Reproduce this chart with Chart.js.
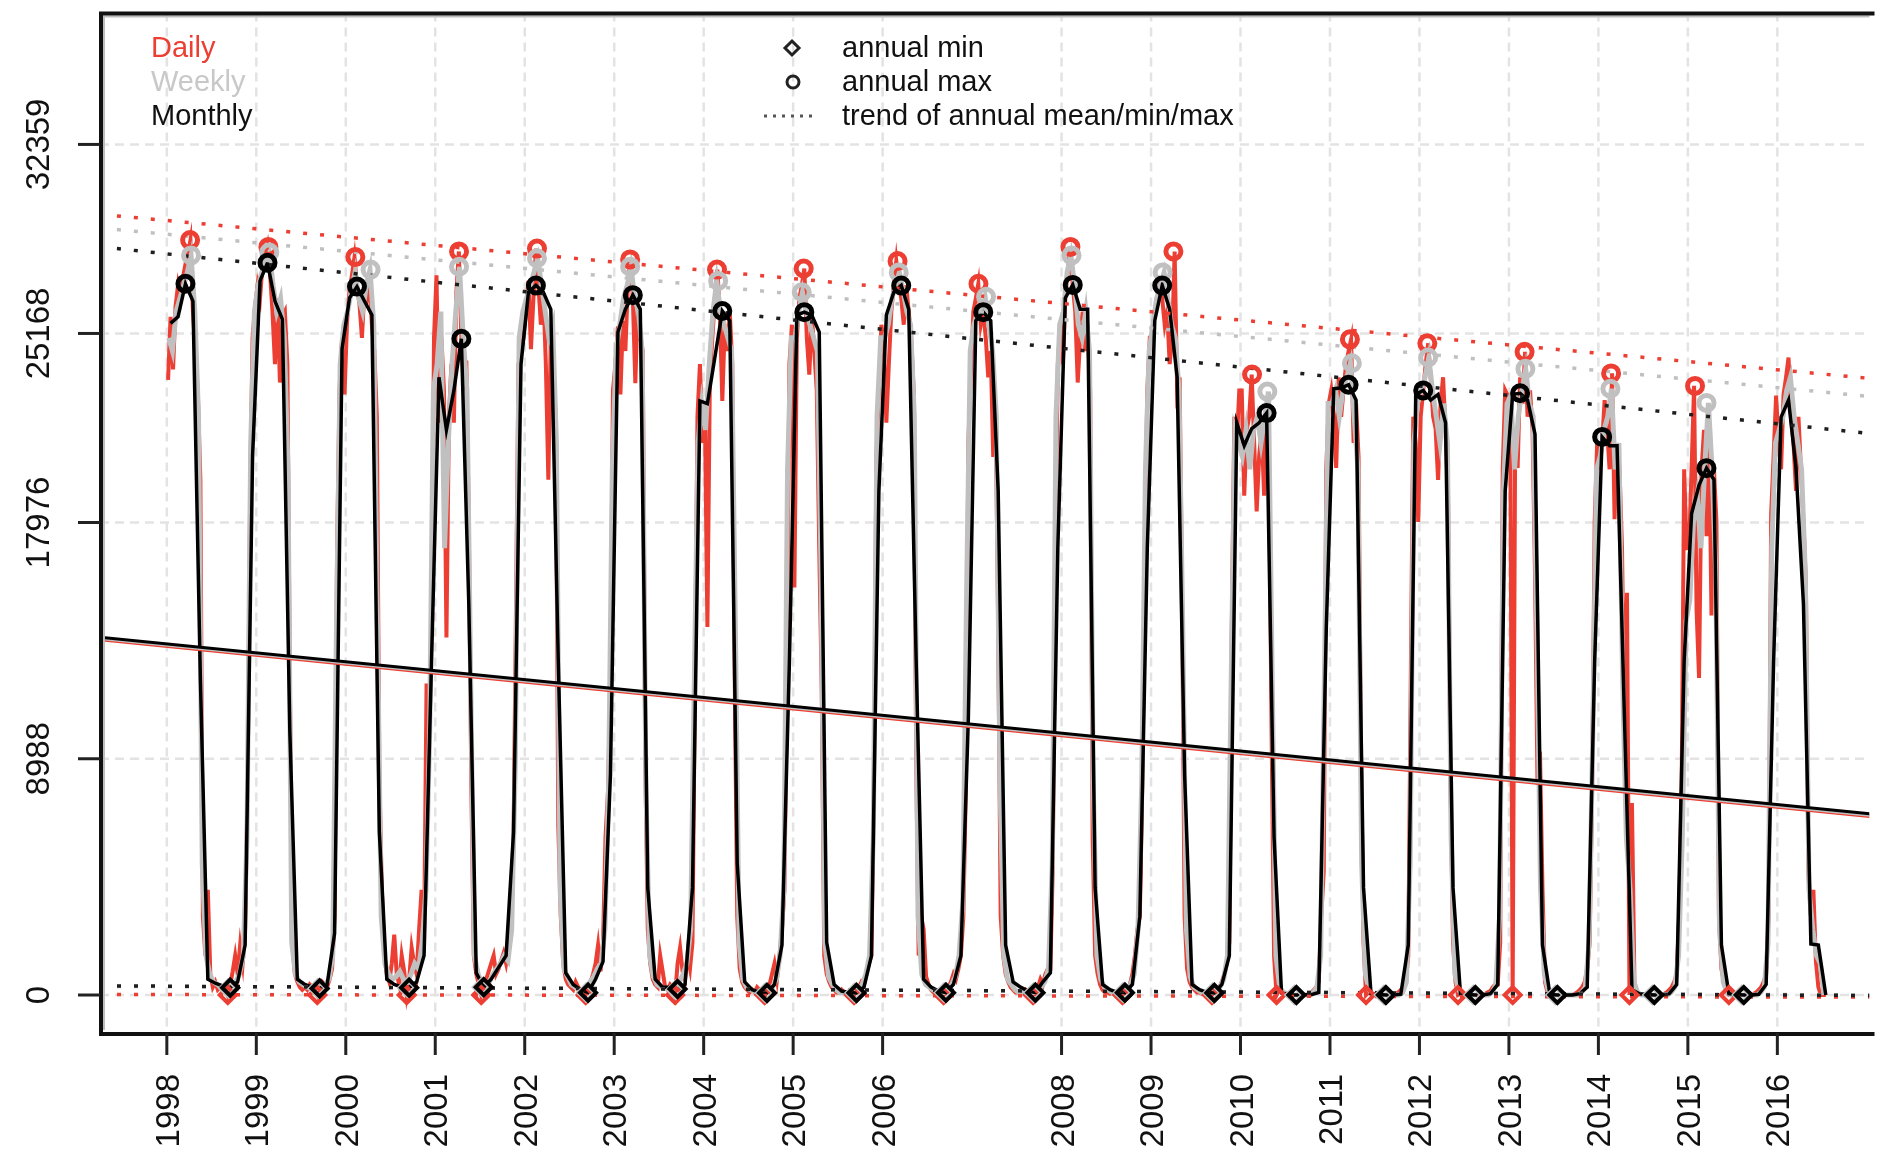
<!DOCTYPE html>
<html><head><meta charset="utf-8">
<script src="https://cdn.jsdelivr.net/npm/chart.js@4.4.1/dist/chart.umd.min.js"></script>
<style>html,body{margin:0;padding:0;background:#fff;overflow:hidden}canvas{display:block}</style>
</head><body>
<canvas id="c" width="1882" height="1157"></canvas>
<script>
// ---------------- DATA ----------------
const years = [1998,1999,2000,2001,2002,2003,2004,2005,2006,2007,2008,2009,2010,2011,2012,2013,2014,2015,2016];
const tickYears = [1998,1999,2000,2001,2002,2003,2004,2005,2006,2008,2009,2010,2011,2012,2013,2014,2015,2016];
const yTicks = [0, 8988, 17976, 25168, 32359];
const xRange = [1997.253, 2017.03];
const yRange = [-1445, 37378];

// daily values, 36 samples per year (every ~10 days)
const dailyByYear = [
 [23400,25800,23800,26200,27000,26500,27300,27800,28200,28719,26000,24500,22800,19600,3000,1500,4000,800,300,500,200,300,200,300,0,400,900,1500,800,1900,1200,2500,8000,19000,25000,26200],
 [27000,26500,27800,28000,28460,27500,26000,24000,26500,23300,25800,26000,24000,12000,2000,800,500,300,200,300,200,400,300,200,0,300,500,400,300,600,1000,3000,17000,23000,25000,22850],
 [25600,26800,27400,28072,27000,26300,25000,26800,26500,27200,25500,24500,22000,8400,4000,1500,800,500,1200,2300,800,400,1500,900,0,600,1800,1200,800,2500,4000,2000,11850,9000,14000,25000],
 [27380,21770,25000,23000,13600,22000,24000,21770,26740,28288,25000,23000,24140,17900,8000,1500,800,400,0,300,600,900,1200,1500,800,1000,1300,1600,1200,1800,2200,6000,14865,24000,24500,25000],
 [26000,27170,24570,26500,28396,27000,25500,26700,24000,19600,25000,23500,22000,6450,3000,1200,600,400,300,200,500,300,200,100,0,300,500,800,1200,1900,900,2000,6000,7750,12000,23000],
 [24000,25440,22850,25650,24500,27000,27986,26500,23280,26300,25000,24500,9000,2500,1200,600,400,300,1500,900,300,200,400,300,0,1200,1800,900,600,1500,1000,2000,12000,22000,24000,21000],
 [22000,14000,23500,25000,26500,27597,26000,22600,25500,24500,26000,24000,12000,3000,1000,500,300,200,100,200,100,300,200,100,0,300,400,800,1200,600,1500,2500,4000,12000,24000,25500],
 [15500,25000,26500,27000,27640,25000,23600,25870,24500,23000,17000,11600,1500,800,500,300,200,100,100,200,100,50,100,150,0,200,300,500,400,800,1200,1500,8000,20500,23000,25500],
 [24800,21770,24000,26000,27000,27921,27000,26500,25500,27000,26000,25000,23000,9000,1500,3000,2500,700,400,200,100,150,100,50,0,100,300,500,800,600,1000,1500,3000,8000,21000,23700],
 [26000,26500,27058,25500,26000,25000,23500,24500,20470,22000,14000,3000,1500,800,500,300,200,100,100,50,100,200,100,50,0,100,300,600,400,800,1000,1000,5000,17000,24000,25500],
 [24000,26500,27500,28460,27000,26000,23300,25000,26000,24500,25500,23000,6000,1500,800,400,200,100,100,50,100,100,50,50,0,100,200,400,800,1500,2500,3000,8000,16600,23000,25000],
 [25000,26000,26500,27000,26500,25500,26000,24000,25000,28288,23000,23500,15000,3000,1000,500,300,200,100,100,50,50,100,50,0,100,200,300,500,800,1200,2000,14000,22000,21000,23000],
 [23000,19000,21500,22000,23605,21000,18400,20500,21500,19000,22500,20000,10000,1500,0,200,100,50,0,0,0,0,0,0,0,0,0,50,100,200,300,500,3000,4700,20000,22500],
 [23000,22000,20050,23500,22000,23065,24000,24500,24943,21000,22500,20470,9000,2000,0,100,50,0,0,0,0,0,0,0,0,0,50,100,200,300,500,1500,12000,22000,21000,18000],
 [22000,23000,24000,24792,23500,22000,21550,19600,22500,23500,21500,19000,8000,2000,500,0,50,0,0,0,0,0,0,0,0,0,50,100,150,300,400,400,2000,20000,23000,22800],
 [22800,0,21000,20050,23500,22500,24468,22000,23000,21500,16000,8000,9260,4075,500,100,0,0,0,0,0,0,0,0,0,0,50,100,200,300,500,1000,2000,8000,18000,21000],
 [20000,21000,22633,21500,20000,23648,18100,21000,20000,17000,10000,15300,0,7300,500,100,50,0,0,0,0,0,0,0,0,0,50,100,200,300,500,800,3000,8000,20000,17000],
 [17000,20050,23173,14650,12060,20000,21500,17450,21770,14440,20000,18000,3000,1000,500,100,0,0,0,0,0,0,0,0,0,0,50,100,200,300,500,800,3000,18300,20500,22800],
 [21000,20000,22850,23500,24253,22000,21000,19180,22000,20000,18000,15665,4620,3000,4000,1300,300,0,0,0]
];

// weekly values, 24 samples per year
const weeklyByYear = [
 [25000,24500,26000,26500,27000,27500,28137,26000,22000,5000,1500,800,500,400,300,300,250,350,500,800,1500,6000,21000,26000],
 [27000,27500,28000,28245,27000,26000,26500,25000,20000,2000,800,500,400,300,250,300,250,300,400,600,1500,14000,24000,25500],
 [26000,26800,27500,26500,26000,27000,27597,25500,14000,3000,1200,800,600,700,900,600,500,800,1200,1000,2000,4000,10000,23000],
 [24000,26000,17000,21000,24000,26000,27705,25000,23000,12000,1500,800,400,300,500,800,1000,1200,1500,1300,2500,9000,25000,26000],
 [26500,27000,27500,28029,27000,26000,25000,25500,21000,4000,1000,700,400,300,200,150,300,500,700,1000,1200,2500,8000,20000],
 [24500,25500,26500,27000,27705,26500,26000,24500,8000,1500,700,400,300,250,250,200,300,500,800,1200,2500,12000,21000,22500],
 [21500,24000,26000,27166,26000,25500,25000,24500,14000,2000,600,300,200,150,100,100,100,200,300,600,1500,4000,20000,25000],
 [25000,26000,26734,26000,25500,25000,24500,16000,2000,700,400,200,100,100,100,100,100,200,400,800,1500,6000,22000,25000],
 [25000,25500,26500,27000,27489,26800,26000,25500,22000,3000,800,400,300,200,150,100,100,200,400,700,1500,3500,15000,24500],
 [25500,26000,26000,26561,25500,24500,22000,8000,1500,600,400,200,100,100,100,100,100,200,300,500,1000,5000,22000,25500],
 [26000,27500,28137,27000,25500,25000,26000,24500,8000,1500,600,300,200,100,100,100,100,200,400,800,2500,8000,20000,24500],
 [25500,26500,27000,27489,26500,25500,25000,23000,14000,2500,700,300,200,100,100,100,100,150,300,600,1500,12000,21500,21000],
 [20500,21500,20000,21500,22000,21000,22000,22957,12000,1500,300,100,50,0,0,0,0,0,50,100,300,1500,12000,22500],
 [22500,23000,22000,23000,23500,24036,22000,20000,5000,800,200,0,0,0,0,0,0,0,0,100,500,5000,21000,22500],
 [23000,23500,24252,23000,22000,21000,22500,21000,6000,800,200,0,0,0,0,0,0,0,0,100,400,3000,19000,22500],
 [22800,20000,22000,23000,23821,22500,22000,14000,4000,800,200,0,0,0,0,0,0,0,0,100,300,2000,10000,20000],
 [20500,21500,22000,23065,20000,21000,12000,6000,4000,500,100,0,0,0,0,0,0,0,0,100,300,1500,6000,14220],
 [15000,18000,19000,17000,20000,22526,20000,16000,2500,500,100,0,0,0,0,0,0,0,0,100,300,2000,17000,21000],
 [21500,22000,23000,23500,22000,21000,20000,16000,4000,2500,1500,1200,0]
];

// monthly values (Jan..Dec)
const monthlyByYear = [
 [25550,25800,27058,26400,12000,600,450,350,280,500,1900,20500],
 [27170,27856,26400,25700,10000,600,400,300,250,400,2350,24576],
 [26518,26950,26400,25870,6200,600,400,300,280,500,1500,12700],
 [23500,21500,23000,24964,14865,840,300,600,1050,1500,6200,24000],
 [26734,26993,26734,26087,12700,840,400,200,90,600,1270,8400],
 [25223,26087,26626,26087,4075,600,300,300,230,400,4075,22600],
 [22500,24250,26022,25655,5000,500,200,100,80,400,1900,12700],
 [25870,25979,25870,25223,2000,400,150,100,80,300,1490,19180],
 [25870,26734,26993,26087,12700,600,300,150,90,400,1500,10549],
 [25655,25979,25655,19181,1900,500,300,150,90,500,840,17023],
 [26518,27015,26087,26087,4075,400,200,100,90,400,3000,17023],
 [25655,26993,26087,23497,8400,400,200,100,80,400,1490,21770],
 [20900,21550,21770,22137,6000,80,10,0,10,10,100,13900],
 [23065,23100,23216,22633,4075,50,20,0,0,30,1900,22850],
 [23001,22633,22850,21770,4075,50,20,0,0,50,400,19180],
 [22850,22893,22633,21339,1900,20,0,0,0,50,300,12700],
 [21231,20900,20900,10500,200,50,20,0,0,50,400,12700],
 [18318,19400,20044,19610,1900,50,20,0,0,30,400,12700],
 [21987,22633,20044,14865,1940,1900,0]
];

// annual maxima (time, value)
const maxDailyT   = [1998.26,1999.135,2000.107,2001.266,2002.137,2003.178,2004.149,2005.118,2006.167,2007.071,2008.099,2009.25,2010.129,2011.223,2012.088,2013.175,2014.142,2015.08];
const maxDailyV   = [28719,28460,28072,28288,28396,27986,27597,27640,27921,27058,28460,28288,23605,24943,24792,24468,23648,23173];
const maxWeeklyT  = [1998.27,1999.145,2000.277,2001.266,2002.137,2003.178,2004.162,2005.096,2006.18,2007.156,2008.112,2009.13,2010.30,2011.245,2012.097,2013.184,2014.134,2015.208];
const maxWeeklyV  = [28137,28245,27597,27705,28029,27705,27166,26734,27489,26561,28137,27489,22957,24036,24252,23821,23065,22526];
const maxMonthlyT = [1998.208,1999.125,2000.125,2001.292,2002.125,2003.208,2004.208,2005.125,2006.208,2007.125,2008.125,2009.125,2010.292,2011.208,2012.042,2013.125,2014.042,2015.208];
const maxMonthlyV = [27058,27856,26950,24964,26993,26626,26022,25979,26993,25979,27015,26993,22137,23216,23001,22893,21231,20044];

// annual minima (time, value)
const minDailyT   = [1998.681,1999.681,2000.681,2001.514,2002.681,2003.681,2004.681,2005.681,2006.681,2007.681,2008.681,2009.681,2010.403,2011.403,2012.431,2013.042,2014.347,2015.458];
const minDailyV   = [0,0,0,0,0,0,0,0,0,0,0,0,0,0,0,0,0,0];
const minWeeklyT  = [1998.688,1999.688,2000.688,2001.521,2002.688,2003.688,2004.688,2005.688,2006.688,2007.688,2008.688,2009.688,2010.604,2011.604,2012.604,2013.521,2014.604,2015.604];
const minWeeklyV  = [250,250,280,300,90,200,80,80,90,90,90,80,0,0,0,0,0,0];
const minMonthlyT = [1998.708,1999.708,2000.708,2001.542,2002.708,2003.708,2004.708,2005.708,2006.708,2007.708,2008.708,2009.708,2010.625,2011.625,2012.625,2013.542,2014.625,2015.625];
const minMonthlyV = [280,250,280,300,90,230,80,80,90,90,90,80,0,0,0,0,0,0];

// trend lines: value at left edge and right edge of the plot
const meanTrendDaily   = [13530, 6800];
const meanTrendWeekly  = [13570, 6845];
const meanTrendMonthly = [13612, 6900];
const maxTrendDaily    = [29700, 23460];
const maxTrendWeekly   = [29183, 22773];
const maxTrendMonthly  = [28464, 21363];
const minTrendDaily    = [20, -80];
const minTrendWeekly   = [330, 0];
const minTrendMonthly  = [350, -20];

// ---------------- BUILD ----------------
const RED = 'rgb(236,62,50)', GRAY = 'rgb(192,192,192)', BLACK = 'rgb(0,0,0)';
function series(rows, perYear){
  const pts=[];
  rows.forEach((row,i)=>{const Y=years[i];row.forEach((v,k)=>pts.push({x:Y+(k+0.5)/perYear,y:v}));});
  return pts;
}
function zip(ts,vs){return ts.map((t,i)=>({x:t,y:vs[i]}));}
function trend(ab){return [{x:xRange[0],y:ab[0]},{x:xRange[1],y:ab[1]}];}
function lineDS(data,color,w,order,dash){
  return {data,borderColor:color,borderWidth:w,pointRadius:0,tension:0,fill:false,order,borderDash:dash||[],spanGaps:true};
}
function markDS(data,color,style,r,w,order){
  return {data,showLine:false,pointStyle:style,pointRadius:r,pointBorderWidth:w,pointBorderColor:color,pointBackgroundColor:'rgba(0,0,0,0)',borderColor:color,backgroundColor:'rgba(0,0,0,0)',order};
}
const DOT=[4,13];
const datasets=[
  lineDS(series(dailyByYear,36),RED,4,100),
  lineDS(series(weeklyByYear,24),GRAY,5,90),
  lineDS(series(monthlyByYear,12),BLACK,3.5,80),
  lineDS(trend(meanTrendDaily),RED,3.5,70),
  lineDS(trend(meanTrendWeekly),GRAY,3.5,69),
  lineDS(trend(meanTrendMonthly),BLACK,3,68),
  lineDS(trend(maxTrendDaily),RED,3.5,67,DOT),
  lineDS(trend(maxTrendWeekly),GRAY,3.5,66,DOT),
  lineDS(trend(maxTrendMonthly),'rgb(30,30,30)',3.5,65,DOT),
  lineDS(trend(minTrendDaily),RED,3.5,64,DOT),
  lineDS(trend(minTrendWeekly),GRAY,3.5,63,DOT),
  lineDS(trend(minTrendMonthly),'rgb(30,30,30)',3.5,62,DOT),
  markDS(zip(minDailyT,minDailyV),RED,'rectRot',8,4,30),
  markDS(zip(minWeeklyT,minWeeklyV),GRAY,'rectRot',8,4,29),
  markDS(zip(minMonthlyT,minMonthlyV),BLACK,'rectRot',8,4,28),
  markDS(zip(maxDailyT,maxDailyV),RED,'circle',7.5,5,20),
  markDS(zip(maxWeeklyT,maxWeeklyV),GRAY,'circle',7.5,5,19),
  markDS(zip(maxMonthlyT,maxMonthlyV),BLACK,'circle',7.5,5,18)
];

const FONT='"Liberation Sans", Arial, Helvetica, sans-serif';
const frame={
  id:'frame',
  beforeDatasetsDraw(chart){
    const {ctx,chartArea:a,scales:{x,y}}=chart;
    ctx.save();
    ctx.strokeStyle='#e3e3e3';ctx.lineWidth=2.5;ctx.setLineDash([9,6]);
    tickYears.forEach(t=>{const px=x.getPixelForValue(t);ctx.beginPath();ctx.moveTo(px,a.top);ctx.lineTo(px,a.bottom);ctx.stroke();});
    yTicks.forEach(v=>{const py=y.getPixelForValue(v);ctx.beginPath();ctx.moveTo(a.left,py);ctx.lineTo(a.right,py);ctx.stroke();});
    ctx.restore();
  },
  afterDraw(chart){
    const {ctx,chartArea:a,scales:{x,y}}=chart;
    ctx.save();
    // box
    ctx.setLineDash([]);
    ctx.strokeStyle='#bdbdbd';ctx.lineWidth=2;
    ctx.beginPath();ctx.moveTo(a.left+4,a.bottom-3);ctx.lineTo(a.left+4,a.top+4);ctx.lineTo(a.right,a.top+4);ctx.stroke();
    ctx.strokeStyle='#111';ctx.lineWidth=4;
    ctx.beginPath();ctx.moveTo(a.right+5,a.top+1);ctx.lineTo(a.left+1,a.top+1);ctx.lineTo(a.left+1,a.bottom+1);ctx.lineTo(a.right+5,a.bottom+1);ctx.stroke();
    // ticks
    ctx.strokeStyle='#222';ctx.lineWidth=3;
    yTicks.forEach(v=>{const py=y.getPixelForValue(v);ctx.beginPath();ctx.moveTo(78,py);ctx.lineTo(a.left,py);ctx.stroke();});
    tickYears.forEach(t=>{const px=x.getPixelForValue(t);ctx.beginPath();ctx.moveTo(px,a.bottom);ctx.lineTo(px,a.bottom+22);ctx.stroke();});
    // tick labels
    ctx.fillStyle='#111';ctx.font='33px '+FONT;
    yTicks.forEach(v=>{const py=y.getPixelForValue(v);ctx.save();ctx.translate(49,py);ctx.rotate(-Math.PI/2);ctx.textAlign='center';ctx.textBaseline='alphabetic';ctx.fillText(String(v),0,0);ctx.restore();});
    tickYears.forEach(t=>{const px=x.getPixelForValue(t);ctx.save();ctx.translate(px+12,a.bottom+41);ctx.rotate(-Math.PI/2);ctx.textAlign='right';ctx.textBaseline='alphabetic';ctx.fillText(String(t),0,0);ctx.restore();});
    // legend left
    ctx.font='29px '+FONT;ctx.textAlign='left';ctx.textBaseline='alphabetic';
    ctx.fillStyle=RED;ctx.fillText('Daily',151,57);
    ctx.fillStyle='rgb(200,200,200)';ctx.fillText('Weekly',151,91);
    ctx.fillStyle='#111';ctx.fillText('Monthly',151,125);
    // legend centre
    ctx.fillStyle='#111';
    ctx.fillText('annual min',842,57);
    ctx.fillText('annual max',842,91);
    ctx.fillText('trend of annual mean/min/max',842,125);
    ctx.strokeStyle='#222';ctx.lineWidth=3;
    ctx.beginPath();ctx.moveTo(792,41);ctx.lineTo(799,48);ctx.lineTo(792,55);ctx.lineTo(785,48);ctx.closePath();ctx.stroke();
    ctx.beginPath();ctx.arc(793,82,6,0,Math.PI*2);ctx.stroke();
    ctx.strokeStyle='#555';ctx.setLineDash([3,6]);
    ctx.beginPath();ctx.moveTo(764,116);ctx.lineTo(816,116);ctx.stroke();
    ctx.restore();
  }
};

new Chart(document.getElementById('c'),{
  type:'line',
  data:{datasets},
  options:{
    responsive:false,animation:false,devicePixelRatio:1,
    layout:{padding:{left:100,top:12,right:0,bottom:124}},
    plugins:{legend:{display:false},tooltip:{enabled:false}},
    scales:{
      x:{type:'linear',display:false,min:xRange[0],max:xRange[1]},
      y:{type:'linear',display:false,min:yRange[0],max:yRange[1]}
    }
  },
  plugins:[frame]
});
</script>
</body></html>
